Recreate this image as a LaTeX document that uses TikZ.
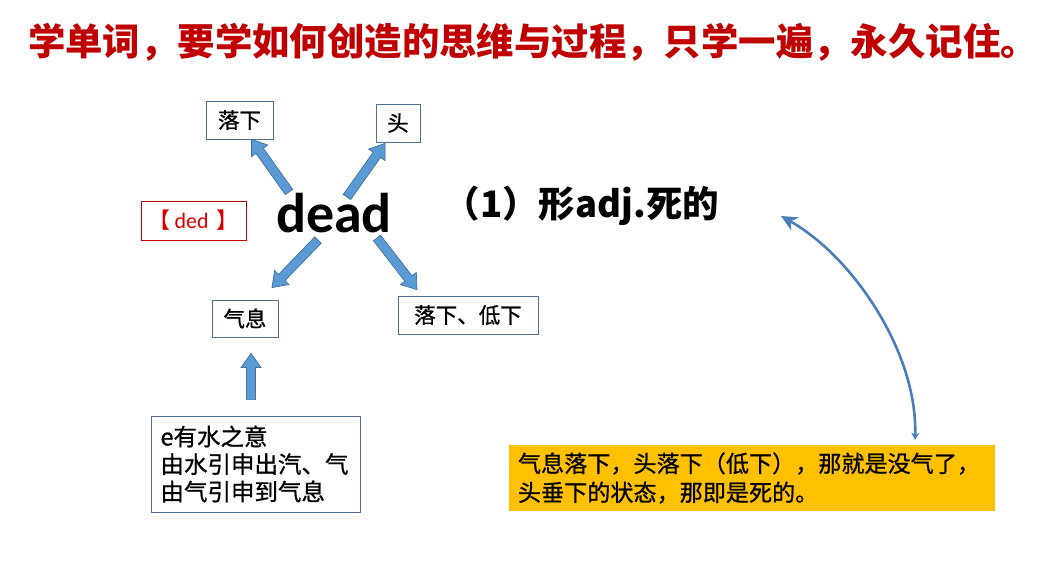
\documentclass[tikz,border=0pt]{standalone}
\usepackage{fontspec}
\setmainfont{Noto Sans CJK SC}
\newfontfamily\cjkm[FakeBold=0.8]{Noto Sans CJK SC}
\newfontfamily\carl{Carlito}
\usetikzlibrary{calc,arrows.meta}
\definecolor{titlered}{HTML}{C00000}
\definecolor{arrfill}{HTML}{5B9BD5}
\definecolor{arrline}{HTML}{41719C}
\definecolor{curvecol}{HTML}{4A7EB8}
\definecolor{boxline}{HTML}{4A7097}
\definecolor{ybox}{HTML}{FFC000}
\newcommand\blockarrow[2]{%
  \coordinate (bh) at ($(#2)!14pt!(#1)$);
  \filldraw[barrow] ($(#1)!4.5pt!90:(#2)$) -- ($(bh)!4.5pt!90:(#2)$) -- ($(bh)!10pt!90:(#2)$) -- (#2)
    -- ($(bh)!10pt!-90:(#2)$) -- ($(bh)!4.5pt!-90:(#2)$) -- ($(#1)!4.5pt!-90:(#2)$) -- cycle;}
\begin{document}
\begin{tikzpicture}[x=1pt,y=-1pt,
  barrow/.style={fill=arrfill,draw=arrline,line width=0.7pt,line join=miter},
  wbox/.style={draw=boxline,line width=0.8pt,inner sep=0pt,font=\cjkm\fontsize{21.5}{24}\selectfont},
]
\useasboundingbox[fill=white] (0,0) rectangle (1063,580);
% title
\node[text=titlered,font=\bfseries\fontsize{37.4}{40}\selectfont] (title) at (533,42) {学单词，要学如何创造的思维与过程，只学一遍，永久记住。};
% central word
\node[font=\carl\bfseries\fontsize{56}{60}\selectfont] (dead) at (334,213) {dead};
\node[draw=titlered,line width=0.8pt,minimum width=105pt,minimum height=39pt,inner sep=0pt,text=red!85!black,font=\fontsize{22}{24}\selectfont] (phon) at (193.5,220.5) {【\carl\,ded\,\,\normalfont】};
\node[anchor=west,font=\bfseries\fontsize{36.5}{40}\selectfont] (mean) at (440,206) {（1）形adj.死的};
% boxes
\node[wbox,minimum width=67pt,minimum height=38pt] (luoxia) at (239.5,120) {落下};
\node[wbox,minimum width=44pt,minimum height=38pt] (tou) at (398,123) {头};
\node[wbox,minimum width=66pt,minimum height=37pt] (qixi) at (245,318.5) {气息};
\node[wbox,minimum width=140pt,minimum height=38pt] (dixia) at (468,315) {落下、低下};
\node[draw=boxline,line width=0.8pt,minimum width=209pt,minimum height=96pt,inner sep=0pt,text width=190pt,align=left,font=\cjkm\fontsize{23.5}{27.5}\selectfont] (ebox) at (255.5,464) {e有水之意\\由水引申出汽、气\\由气引申到气息};
\node[fill=ybox,minimum width=486pt,minimum height=66pt,inner sep=0pt,text width=468pt,align=left,font=\cjkm\fontsize{23.1}{29}\selectfont] (ybox) at (752,478) {气息落下，头落下（低下），那就是没气了，\\头垂下的状态，那即是死的。};
% arrow coordinates
\coordinate (t1) at (289,192);
\coordinate (h1) at ($(luoxia.south)+(12,0)$);
\coordinate (t2) at (347,197);
\coordinate (h2) at ($(tou.south)+(-13,1)$);
\coordinate (t3) at (318,240);
\coordinate (h3) at ($(qixi.north)+(27,-12)$);
\coordinate (t4) at (377,238);
\coordinate (h4) at ($(dixia.north)+(-51,-6)$);
\coordinate (t5) at ($(ebox.north)+(-4.5,-16)$);
\coordinate (h5) at ($(qixi.south)+(6,16)$);
\blockarrow{t1}{h1}
\blockarrow{t2}{h2}
\blockarrow{t3}{h3}
\blockarrow{t4}{h4}
\blockarrow{t5}{h5}
% curved arrow
\coordinate (ct) at ($(ybox.north)+(163,-5)$);
\coordinate (ch) at (781,216);
\draw[curvecol,line width=2.6pt,{Stealth[length=7pt,width=8pt]}-{Stealth[length=16pt,width=15pt,inset=5pt]}]
  (ct) .. controls (918,355) and (855,258) .. (ch);
\end{tikzpicture}
\end{document}
